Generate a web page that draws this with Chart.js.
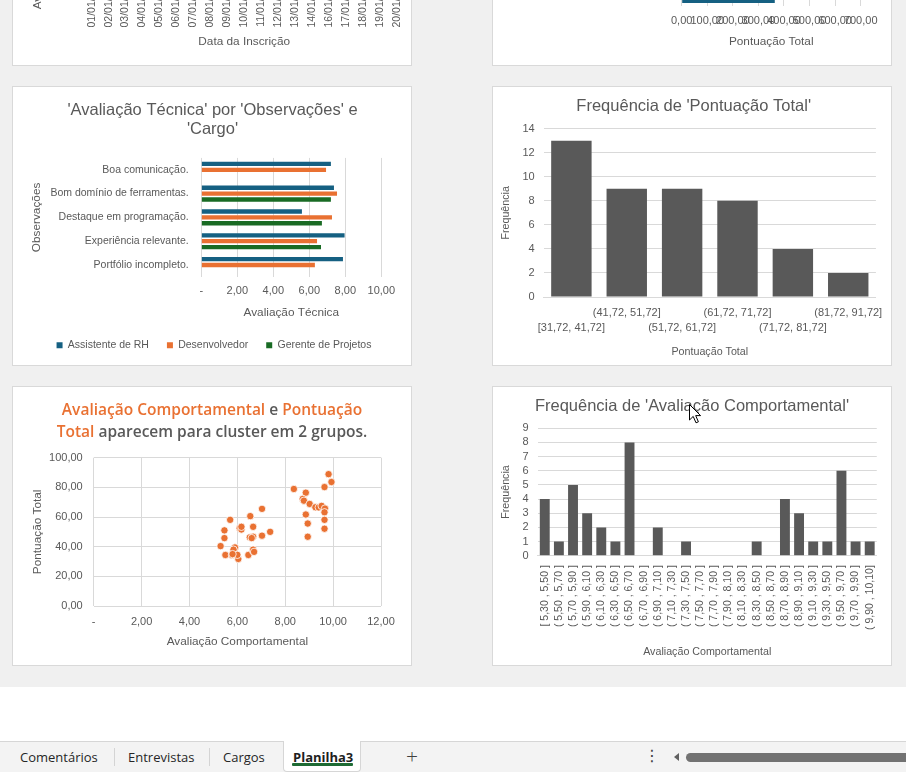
<!DOCTYPE html>
<html lang="pt-BR">
<head>
<meta charset="utf-8">
<title>Planilha3</title>
<script src="https://cdn.jsdelivr.net/npm/chart.js@4.4.1/dist/chart.umd.min.js"></script>
<style>
  html, body { margin: 0; padding: 0; }
  body {
    width: 906px; height: 772px; overflow: hidden; position: relative;
    background: #fff; font-family: 'Liberation Sans', Arial, sans-serif;
  }
  #sheet {
    position: absolute; left: 0; top: 0; width: 906px; height: 687px;
    background: #f0f0f0; overflow: hidden;
  }
  .panel {
    position: absolute; width: 400px; height: 280px; background: #fff;
    border: 1px solid #d9d9d9; box-sizing: border-box;
  }
  .panel canvas { position: absolute; left: -1px; top: -1px; }
  .rich-title {
    position: absolute; left: -1px; width: 400px; text-align: center;
    font: 600 15.5px/22.3px 'Open Sans', sans-serif; color: #595959;
  }
  .rich-title .hl { color: #e97132; }
  #cursor { position: absolute; left: 688px; top: 403px; }

  /* barra de abas do Excel */
  #tabs {
    position: absolute; left: 0; top: 741px; width: 906px; height: 31px;
    background: #f3f3f3; border-top: 1px solid #d6d6d6; box-sizing: border-box;
    font: 13px/18px 'Open Sans', sans-serif; color: #262626;
  }
  .tab { position: absolute; top: 6px; white-space: nowrap; }
  .sep { position: absolute; top: 6px; width: 1px; height: 18px; background: #d4d4d4; }
  #active {
    position: absolute; left: 283px; top: -1px; width: 78px; height: 31px;
    background: #fff; border: 1px solid #d6d6d6; border-top: none;
    border-radius: 0 0 4px 4px; box-sizing: border-box;
  }
  #active .tab { left: 9px; top: 7px; font-weight: 700; color: #1f1f1f; }
  #active .bar {
    position: absolute; left: 8px; top: 22px; width: 61px; height: 2.5px;
    background: #1e6b34; border-radius: 1px;
  }
  #plus { position: absolute; left: 406px; top: 1px; font: 300 21px/26px 'Open Sans', sans-serif; color: #404040; }
  #more { position: absolute; left: 644px; top: 4px; font: 16px/20px 'DejaVu Sans', sans-serif; color: #404040; }
  #arrow {
    position: absolute; left: 674px; top: 11px; width: 0; height: 0;
    border-top: 4px solid transparent; border-bottom: 4px solid transparent;
    border-right: 5px solid #606060;
  }
  #thumb {
    position: absolute; left: 686px; top: 10.5px; width: 240px; height: 9.5px;
    background: #727272; border-radius: 5px;
  }
</style>
</head>
<body>

<div id="sheet">
  <div class="panel" style="left:12px; top:-214px;"><canvas id="cDatas" width="400" height="280"></canvas></div>
  <div class="panel" style="left:492px; top:-214px;"><canvas id="cPontObs" width="400" height="280"></canvas></div>
  <div class="panel" style="left:12px; top:86px;"><canvas id="cTecnica" width="400" height="280"></canvas></div>
  <div class="panel" style="left:492px; top:86px;"><canvas id="cHistPont" width="400" height="280"></canvas></div>
  <div class="panel" style="left:12px; top:386px;">
    <canvas id="cScatter" width="400" height="280"></canvas>
    <div class="rich-title" style="top:10.5px;">
      <span class="hl">Avaliação Comportamental</span> e <span class="hl">Pontuação</span><br>
      <span class="hl">Total</span> aparecem para cluster em 2 grupos.
    </div>
  </div>
  <div class="panel" style="left:492px; top:386px;"><canvas id="cHistComp" width="400" height="280"></canvas></div>
  <svg id="cursor" width="14" height="22" viewBox="0 0 14 22">
    <path d="M1.5 1.5 L1.5 17 L5.2 13.4 L8 19.8 L10.4 18.8 L7.7 12.6 L12.6 12.6 Z" fill="#fff" stroke="#000" stroke-width="1"/>
  </svg>
</div>

<div id="tabs">
  <span class="tab" style="left:20px;">Comentários</span>
  <div class="sep" style="left:114px;"></div>
  <span class="tab" style="left:128px;">Entrevistas</span>
  <div class="sep" style="left:209px;"></div>
  <span class="tab" style="left:223px;">Cargos</span>
  <div id="active"><span class="tab">Planilha3</span><div class="bar"></div></div>
  <span id="plus">+</span>
  <span id="more">⋮</span>
  <div id="arrow"></div>
  <div id="thumb"></div>
</div>

<script>
// ---- dados ----

// eixo do gráfico cortado no topo à esquerda
const datasInscricao = [
  '01/01/2024', '02/01/2024', '03/01/2024', '04/01/2024', '05/01/2024',
  '06/01/2024', '07/01/2024', '08/01/2024', '09/01/2024', '10/01/2024',
  '11/01/2024', '12/01/2024', '13/01/2024', '14/01/2024', '16/01/2024',
  '17/01/2024', '18/01/2024', '19/01/2024', '20/01/2024'
];

const observacoes = [
  'Boa comunicação.',
  'Bom domínio de ferramentas.',
  'Destaque em programação.',
  'Experiência relevante.',
  'Portfólio incompleto.'
];
const cargos = ['Assistente de RH', 'Desenvolvedor', 'Gerente de Projetos'];

// 'Avaliação Técnica' por 'Observações' e 'Cargo'
const tecAssistenteRH = [7.20, 7.37, 5.59, 7.96, 7.87];
const tecDesenvolvedor = [6.93, 7.54, 7.26, 6.43, 6.31];
const tecGerenteProjetos = [null, 7.20, 6.70, 6.65, null];

// gráfico cortado no topo à direita: só a última barra aparece
const pontuacaoPorObs = [null, null, null, null, 364];

// Frequência de 'Pontuação Total'
const faixasPontuacao = [
  '[31,72, 41,72]', '(41,72, 51,72]', '(51,72, 61,72]',
  '(61,72, 71,72]', '(71,72, 81,72]', '(81,72, 91,72]'
];
const freqPontuacao = [13, 9, 9, 8, 4, 2];

// Frequência de 'Avaliação Comportamental'
const faixasComportamental = [
  '[ 5,30 , 5,50 ]', '( 5,50 , 5,70 ]', '( 5,70 , 5,90 ]', '( 5,90 , 6,10 ]',
  '( 6,10 , 6,30 ]', '( 6,30 , 6,50 ]', '( 6,50 , 6,70 ]', '( 6,70 , 6,90 ]',
  '( 6,90 , 7,10 ]', '( 7,10 , 7,30 ]', '( 7,30 , 7,50 ]', '( 7,50 , 7,70 ]',
  '( 7,70 , 7,90 ]', '( 7,90 , 8,10 ]', '( 8,10 , 8,30 ]', '( 8,30 , 8,50 ]',
  '( 8,50 , 8,70 ]', '( 8,70 , 8,90 ]', '( 8,90 , 9,10 ]', '( 9,10 , 9,30 ]',
  '( 9,30 , 9,50 ]', '( 9,50 , 9,70 ]', '( 9,70 , 9,90 ]', '( 9,90 , 10,10]'
];
const freqComportamental = [4, 1, 5, 3, 2, 1, 8, 0, 2, 0, 1, 0, 0, 0, 0, 1, 0, 4, 3, 1, 1, 6, 1, 1];

// dispersão: Avaliação Comportamental x Pontuação Total
const avalComportamental = [
  5.30, 5.46, 5.46, 5.50, 5.70, 5.77, 5.89, 5.90, 5.84, 6.04,
  6.00, 6.10, 6.17, 6.17, 6.46, 6.54, 6.66, 6.52, 6.66, 6.66,
  6.66, 6.60, 6.70, 7.03, 7.03, 7.37, 8.36, 8.86, 8.73, 8.86,
  8.78, 9.02, 8.94, 8.94, 9.26, 9.40, 9.52, 9.66, 9.64, 9.64,
  9.64, 9.64, 9.81, 9.93, 5.80
];
const pontuacaoTotal = [
  40.4, 51.0, 45.8, 34.4, 58.1, 34.4, 38.7, 39.5, 38.0, 31.72,
  34.5, 52.5, 51.6, 53.4, 34.4, 60.6, 53.4, 46.3, 46.7, 37.1,
  38.0, 45.8, 36.5, 65.5, 47.4, 50.0, 78.9, 76.4, 72.2, 61.7,
  71.0, 68.8, 55.6, 46.7, 66.6, 66.5, 67.5, 65.7, 63.2, 58.1,
  52.1, 80.2, 88.9, 83.6, 35.0
];

// ---- estilo ----
const BLUE = '#156082';
const ORANGE = '#e97132';
const GREEN = '#196b24';
const BAR_GRAY = '#595959';
const GRID = '#d9d9d9';
const TEXT = '#595959';

Chart.defaults.font.family = "'Liberation Sans', Arial, sans-serif";
Chart.defaults.color = TEXT;
Chart.defaults.animation = false;
Chart.defaults.responsive = false;
Chart.defaults.plugins.legend.display = false;
Chart.defaults.plugins.tooltip.enabled = false;

// fixa a largura/altura dos eixos para posicionar a área de plotagem
const fixWidth = w => axis => { axis.width = w; };
const fixHeight = h => axis => { axis.height = h; };
const num2 = v => v.toFixed(2).replace('.', ',');
const contabil = v => (v === 0 ? '-' : num2(v));

// no Excel título e legenda ficam centrados no painel inteiro,
// não só na faixa entre os paddings do layout
const panelCenter = {
  id: 'panelCenter',
  afterLayout(chart, args, opts) {
    [['titleBlock', opts.title], ['legend', opts.legend]].forEach(([key, span]) => {
      const box = chart[key];
      if (!box || !span) return;
      box.left = span[0];
      box.right = span[1];
      box.width = span[1] - span[0];
    });
  }
};

function chartTitle(text, padTop, padBottom) {
  return {
    display: true, text, color: TEXT,
    font: { size: 16.5, weight: 'normal', lineHeight: 1.17 },
    padding: { top: padTop, bottom: padBottom }
  };
}
function axisTitle(text, size, padding) {
  return { display: true, text, color: TEXT, font: { size }, padding };
}

// gráfico superior esquerdo (apenas o eixo aparece)
new Chart(document.getElementById('cDatas'), {
  type: 'line',
  data: { labels: datasInscricao, datasets: [] },
  options: {
    layout: { padding: { left: 0, right: 15.3, top: 10, bottom: 16.9 } },
    scales: {
      x: {
        offset: false,
        ticks: { autoSkip: false, minRotation: 90, maxRotation: 90, padding: 9, font: { size: 10.5 } },
        grid: { display: false, drawTicks: false },
        border: { display: false },
        title: axisTitle('Data da Inscrição', 11.8, { top: 0, bottom: 0 }),
        afterFit(axis) { axis.height = 83.1; axis.paddingLeft = 0; axis.paddingRight = 0; }
      },
      y: {
        min: 0, max: 10,
        ticks: { stepSize: 2, padding: 10, font: { size: 11 }, callback: contabil },
        grid: { color: GRID, drawTicks: false },
        border: { display: false },
        title: axisTitle('Avaliação Técnica e Avaliação Comportamental', 11.8, { top: 18.9, bottom: 0 }),
        afterFit: fixWidth(79.7)
      }
    }
  }
});

// gráfico superior direito (apenas a base aparece)
new Chart(document.getElementById('cPontObs'), {
  type: 'bar',
  data: { labels: observacoes, datasets: [{ label: 'Pontuação Total', data: pontuacaoPorObs, backgroundColor: BLUE }] },
  options: {
    indexAxis: 'y',
    layout: { padding: { left: 0, right: 31.3, top: 70, bottom: 16.9 } },
    datasets: { bar: { categoryPercentage: 0.8, barPercentage: 1 } },
    scales: {
      x: {
        min: 0, max: 700,
        ticks: { stepSize: 100, autoSkip: false, maxRotation: 0, padding: 8.4, font: { size: 11 }, callback: num2 },
        grid: { color: GRID, drawTicks: false },
        border: { display: false },
        title: axisTitle('Pontuação Total', 11.8, { top: 0, bottom: 0 }),
        afterFit: fixHeight(43.1)
      },
      y: {
        ticks: { display: false },
        grid: { display: false, drawTicks: false },
        border: { display: false },
        afterFit: fixWidth(189.7)
      }
    }
  }
});

// 'Avaliação Técnica' por 'Observações' e 'Cargo'
new Chart(document.getElementById('cTecnica'), {
  type: 'bar',
  data: {
    labels: observacoes,
    datasets: [
      { label: cargos[0], data: tecAssistenteRH, backgroundColor: BLUE },
      { label: cargos[1], data: tecDesenvolvedor, backgroundColor: ORANGE },
      { label: cargos[2], data: tecGerenteProjetos, backgroundColor: GREEN }
    ]
  },
  plugins: [panelCenter],
  options: {
    indexAxis: 'y',
    layout: { padding: { left: 0, right: 30.7, top: 0, bottom: 5.4 } },
    datasets: { bar: { categoryPercentage: 0.74, barPercentage: 0.74 } },
    plugins: {
      title: chartTitle(["'Avaliação Técnica' por 'Observações' e", "'Cargo'"], 14.35, 18.95),
      legend: {
        display: true, position: 'bottom',
        labels: { boxWidth: 6, boxHeight: 6, padding: 18, color: TEXT, font: { size: 10.5 } }
      },
      panelCenter: { title: [0, 401], legend: [0, 404] }
    },
    scales: {
      x: {
        min: 0, max: 10,
        ticks: { stepSize: 2, maxRotation: 0, padding: 7.5, font: { size: 11 }, callback: contabil },
        grid: { color: GRID, drawTicks: false },
        border: { display: false },
        title: axisTitle('Avaliação Técnica', 11.8, { top: 0, bottom: 2 }),
        afterFit: fixHeight(45.2)
      },
      y: {
        ticks: { padding: 12.6, font: { size: 10.5 } },
        grid: { display: false, drawTicks: false },
        border: { display: false },
        title: axisTitle('Observações', 11.8, { top: 17.9, bottom: 0 }),
        afterFit: fixWidth(189.3)
      }
    }
  }
});

// Frequência de 'Pontuação Total'
new Chart(document.getElementById('cHistPont'), {
  type: 'bar',
  data: { labels: faixasPontuacao, datasets: [{ label: 'Frequência', data: freqPontuacao, backgroundColor: BAR_GRAY }] },
  plugins: [panelCenter],
  options: {
    layout: { padding: { left: 0, right: 12.3, top: 0, bottom: 7.9 } },
    datasets: { bar: { categoryPercentage: 1, barPercentage: 0.73 } },
    plugins: {
      title: chartTitle("Frequência de 'Pontuação Total'", 10.35, 13.05),
      panelCenter: { title: [0, 403.4] }
    },
    scales: {
      x: {
        ticks: {
          autoSkip: false, maxRotation: 0, padding: 8.8,
          font: { size: 11, lineHeight: '15px' },
          // rótulos alternados em duas linhas, como no Excel
          callback(v, i) {
            const t = this.getLabelForValue(v);
            return i % 2 ? [t, ''] : ['', t];
          }
        },
        grid: { display: false, drawTicks: false },
        border: { display: true, color: GRID },
        title: axisTitle('Pontuação Total', 10.7, { top: 0, bottom: 0 }),
        afterFit: fixHeight(61.1)
      },
      y: {
        min: 0, max: 14,
        ticks: { stepSize: 2, autoSkip: false, padding: 9, font: { size: 11 } },
        grid: { color: GRID, drawTicks: false },
        border: { display: false },
        title: axisTitle('Frequência', 10.7, { top: 7.6, bottom: 0 }),
        afterFit: fixWidth(51.7)
      }
    }
  }
});

// dispersão
new Chart(document.getElementById('cScatter'), {
  type: 'scatter',
  data: {
    datasets: [{
      label: 'Pontuação Total',
      data: avalComportamental.map((x, i) => ({ x, y: pontuacaoTotal[i] })),
      backgroundColor: ORANGE, borderColor: '#ffffff', borderWidth: 0.8, pointRadius: 3.7
    }]
  },
  options: {
    layout: { padding: { left: 0, right: 31, top: 71.7, bottom: 16.9 } },
    scales: {
      x: {
        type: 'linear', min: 0, max: 12,
        ticks: { stepSize: 2, maxRotation: 0, padding: 9.1, font: { size: 11 }, callback: contabil },
        grid: { color: GRID, drawTicks: false },
        border: { display: false },
        title: axisTitle('Avaliação Comportamental', 11.8, { top: 0, bottom: 0 }),
        afterFit: fixHeight(43.1)
      },
      y: {
        min: 0, max: 100,
        ticks: { stepSize: 20, autoSkip: false, padding: 11, font: { size: 11 }, callback: num2 },
        grid: { color: GRID, drawTicks: false },
        border: { display: false },
        title: axisTitle('Pontuação Total', 11.8, { top: 18.9, bottom: 0 }),
        afterFit: fixWidth(81.7)
      }
    }
  }
});

// Frequência de 'Avaliação Comportamental'
new Chart(document.getElementById('cHistComp'), {
  type: 'bar',
  data: { labels: faixasComportamental, datasets: [{ label: 'Frequência', data: freqComportamental, backgroundColor: BAR_GRAY }] },
  plugins: [panelCenter],
  options: {
    layout: { padding: { left: 0, right: 9.3, top: 0, bottom: 7.9 } },
    datasets: { bar: { categoryPercentage: 1, barPercentage: 0.7 } },
    plugins: {
      title: chartTitle("Frequência de 'Avaliação Comportamental'", 10.35, 12.65),
      panelCenter: { title: [0, 400] }
    },
    scales: {
      x: {
        ticks: { autoSkip: false, minRotation: 90, maxRotation: 90, padding: 9.5, font: { size: 10.5 } },
        grid: { display: false, drawTicks: false },
        border: { display: true, color: GRID },
        title: axisTitle('Avaliação Comportamental', 10.7, { top: 0, bottom: 0 }),
        afterFit: fixHeight(102.4)
      },
      y: {
        min: 0, max: 9,
        ticks: { stepSize: 1, autoSkip: false, padding: 9, font: { size: 11 } },
        grid: { color: GRID, drawTicks: false },
        border: { display: false },
        title: axisTitle('Frequência', 10.7, { top: 7.6, bottom: 0 }),
        afterFit: fixWidth(45.7)
      }
    }
  }
});
</script>
</body>
</html>
